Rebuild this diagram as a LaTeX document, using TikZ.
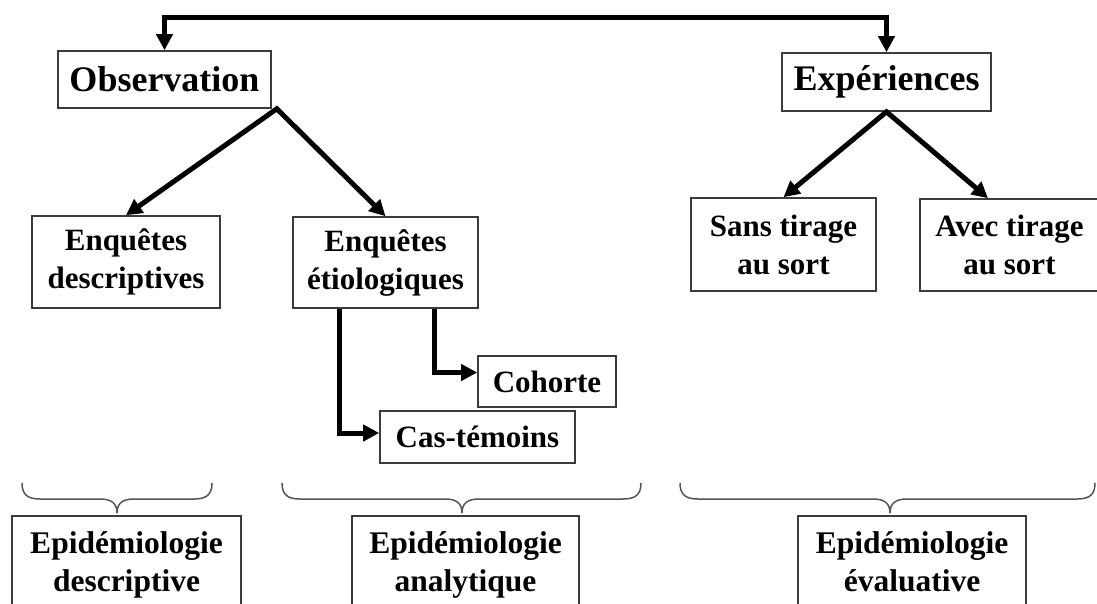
\documentclass[tikz,border=0pt]{standalone}
\usepackage{fontspec}
\setmainfont{Liberation Serif}
\usetikzlibrary{arrows.meta}
\definecolor{boxgray}{HTML}{3C3C3C}
\definecolor{bracegray}{HTML}{555555}
\begin{document}
\begin{tikzpicture}[x=1pt,y=-1pt,
  >={Triangle[length=16pt,width=16pt]},
  box/.style={draw=boxgray, line width=1.6pt, fill=white, inner sep=0pt, align=center,
    font=\bfseries\fontsize{31}{38}\selectfont},
  bigbox/.style={box, font=\bfseries\fontsize{36}{40}\selectfont},
  epibox/.style={box, font=\bfseries\fontsize{31.5}{38}\selectfont},
  conn/.style={line width=5pt, black, line join=miter},
  bracepath/.style={draw=bracegray, line width=1.5pt}
]
\useasboundingbox (0,0) rectangle (1097,604);
\clip (0,0) rectangle (1097,604);

% top level
\node[bigbox, minimum width=213pt, minimum height=57pt] (obs) at (164.5,79.5) {Observation};
\node[bigbox, minimum width=209pt, minimum height=58pt] (exp) at (886.5,82) {Expériences};

% second level
\node[box, minimum width=188pt, minimum height=92pt] (ed) at (126,262) {Enquêtes\\descriptives};
\node[box, minimum width=185pt, minimum height=91pt] (ee) at (385.5,262.5) {Enquêtes\\étiologiques};
\node[box, minimum width=185pt, minimum height=93pt] (sans) at (783.5,244.5) {Sans tirage\\au sort};
\node[box, minimum width=179pt, minimum height=92pt] (avec) at (1009.5,245) {Avec tirage\\au sort};

% third level
\node[box, minimum width=138pt, minimum height=51pt] (coh) at (547,381.5) {Cohorte};
\node[box, minimum width=195pt, minimum height=52pt] (cas) at (477.5,437) {Cas-témoins};

% bottom boxes
\node[epibox, minimum width=229pt, minimum height=97pt] (ep1) at (126.5,564.5) {Epidémiologie\\descriptive};
\node[epibox, minimum width=227pt, minimum height=97pt] (ep2) at (465.5,564.5) {Epidémiologie\\analytique};
\node[epibox, minimum width=228pt, minimum height=97pt] (ep3) at (912,564.5) {Epidémiologie\\évaluative\vphantom{p}};

% connectors
\coordinate (topline) at (525,17.5);
\draw[conn, <->] (obs.north) |- (topline) -| (exp.north);

\coordinate (obsapex) at ([xshift=5pt]obs.south east);
\draw[conn, <->] (ed.north) -- (obsapex) -- (ee.north);

\draw[conn, <->] (sans.north) -- (exp.south) -- ([xshift=-21.5pt]avec.north);

\draw[conn, ->] ([xshift=47pt]ee.south west) |- ([yshift=4pt]cas.west);
\draw[conn, ->] ([xshift=-44pt]ee.south east) |- ([yshift=9pt]coh.west);

% braces
\newcommand{\mybrace}[3]{%
  \draw[bracepath] (#1,483) .. controls (#1,495) and (#1+6,499) .. (#1+18,499)
    -- (#2-17,499) .. controls (#2-6,499) and (#2,503) .. (#2,513)
    .. controls (#2,503) and (#2+6,499) .. (#2+17,499)
    -- (#3-18,499) .. controls (#3-6,499) and (#3,495) .. (#3,483);}
\mybrace{22}{117}{212}
\mybrace{282}{462}{641}
\mybrace{680}{890}{1095}
\end{tikzpicture}
\end{document}
